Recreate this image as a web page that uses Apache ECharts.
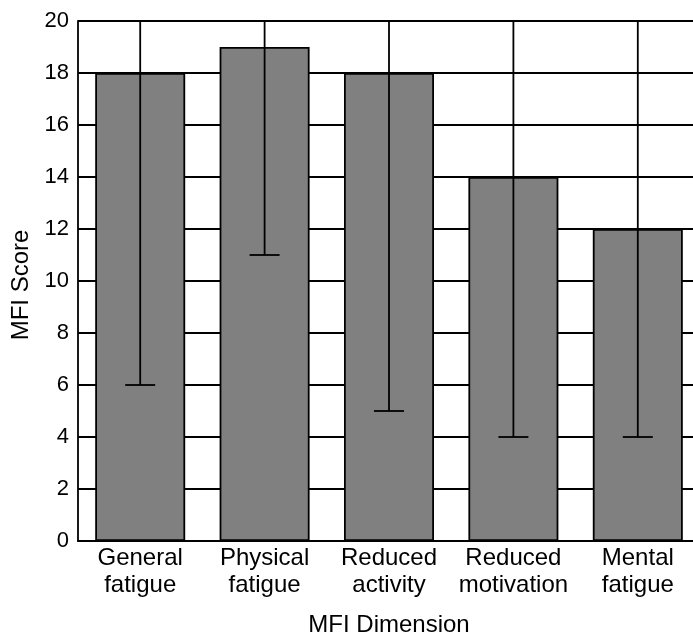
<!DOCTYPE html>
<html>
<head>
<meta charset="utf-8">
<script src="https://cdn.jsdelivr.net/npm/echarts@6/dist/echarts.min.js"></script>
<style>
html,body{margin:0;padding:0;background:#fff;}
#chart{width:693px;height:639px;}
</style>
</head>
<body>
<div id="chart"></div>
<script>
const categories = ['General\nfatigue', 'Physical\nfatigue', 'Reduced\nactivity', 'Reduced\nmotivation', 'Mental\nfatigue'];
const medianValues = [18, 19, 18, 14, 12];
const lowValues = [6, 11, 5, 4, 4];
const highValues = [20, 20, 20, 20, 20];

const FONT = '"Liberation Sans", Arial, Helvetica, sans-serif';
const chart = echarts.init(document.getElementById('chart'), null, {renderer: 'canvas'});

const errorData = categories.map((c, i) => [i, lowValues[i], highValues[i]]);

chart.setOption({
  animation: false,
  backgroundColor: '#fff',
  grid: {left: 78, top: 21, right: -7, bottom: 98, containLabel: false, outerBoundsMode: 'none'},
  xAxis: {
    type: 'category',
    data: categories,
    boundaryGap: true,
    axisLine: {show: true, lineStyle: {color: '#000', width: 1.8}},
    axisTick: {show: false},
    axisLabel: {color: '#000', fontFamily: FONT, fontSize: 24, lineHeight: 27, margin: 4, interval: 0},
    name: 'MFI Dimension',
    nameLocation: 'middle',
    nameGap: 72,
    nameTextStyle: {color: '#000', fontFamily: FONT, fontSize: 24, lineHeight: 24}
  },
  yAxis: {
    type: 'value',
    min: 0, max: 20, interval: 2,
    axisLine: {show: true, lineStyle: {color: '#000', width: 1.8}},
    axisTick: {show: false},
    axisLabel: {color: '#000', fontFamily: FONT, fontSize: 22, margin: 9},
    splitLine: {show: true, lineStyle: {color: '#000', width: 1.8}},
    name: 'MFI Score',
    nameLocation: 'middle',
    nameGap: 44,
    nameTextStyle: {color: '#000', fontFamily: FONT, fontSize: 24, lineHeight: 24, padding: [0, 8, 0, 0]}
  },
  series: [
    {
      type: 'bar',
      data: medianValues,
      barWidth: 90,
      itemStyle: {color: '#808080', borderColor: '#000', borderWidth: 1.8},
      z: 2
    },
    {
      type: 'custom',
      data: errorData,
      z: 3,
      renderItem: function (params, api) {
        const x = api.value(0);
        const lo = api.coord([x, api.value(1)]);
        const hi = api.coord([x, api.value(2)]);
        const hw = 15;
        const style = {stroke: '#000', lineWidth: 1.8, fill: null};
        return {
          type: 'group',
          children: [
            {type: 'line', shape: {x1: lo[0], y1: lo[1], x2: hi[0], y2: hi[1]}, style: style},
            {type: 'line', shape: {x1: lo[0] - hw, y1: lo[1], x2: lo[0] + hw, y2: lo[1]}, style: style}
          ]
        };
      }
    }
  ]
});
</script>
</body>
</html>
